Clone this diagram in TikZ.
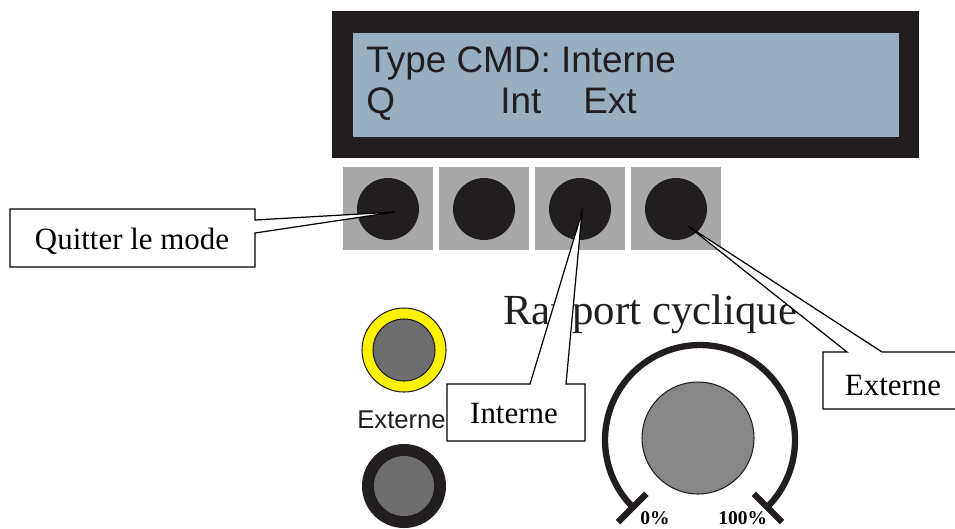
\documentclass[tikz,border=0pt]{standalone}
\usepackage{fontspec}
\setmainfont{Liberation Serif}
\newfontfamily\lcdfont{Liberation Sans}
\usetikzlibrary{calc}

\definecolor{lcdblue}{HTML}{97AFC1}
\definecolor{panelblack}{HTML}{221E1F}
\definecolor{btngray}{HTML}{A8A8A8}
\definecolor{knobgray}{HTML}{878787}
\definecolor{ledgray}{HTML}{6E6E6E}
\definecolor{ledyellow}{HTML}{FFF200}

\begin{document}
\begin{tikzpicture}[x=0.02cm, y=-0.02cm,
    lcdtext/.style={anchor=base west, inner sep=0pt, text=panelblack,
      font=\lcdfont\fontsize{21}{24}\selectfont},
    bubble/.style={draw, fill=white, line width=0.7pt, line join=miter},
    bubbletext/.style={anchor=base, inner sep=0pt, font=\fontsize{17.6}{20}\selectfont},
    ring/.style={draw=panelblack, line width=0.6pt}]

\useasboundingbox (0,0) rectangle (955,528);

% afficheur
\fill[panelblack] (332,11) rectangle (919,158);
\fill[lcdblue] (353,33) rectangle (899,137);
\node[lcdtext] (ligne1) at (366,72) {Type CMD: Interne};
\node[lcdtext] (q) at (366,113) {Q};
\node[lcdtext] (int) at (500,113) {Int};
\node[lcdtext] (ext) at (583,113) {Ext};

% boutons
\foreach \i/\x in {1/388,2/484,3/580,4/676}{
  \fill[btngray] (\x-45,167) rectangle (\x+45,250);
  \fill[panelblack] (\x,209) circle (31);
  \coordinate (b\i) at (\x,209);
}
\coordinate (tipq) at ($(b1)+(7,3)$);
\coordinate (tipi) at ($(b3)+(2,3)$);
\coordinate (tipe) at ($(b4)+(12,17)$);

% voyants
\draw[ring, fill=ledyellow] (404,350) circle (42);
\draw[ring, fill=ledgray] (404,350) circle (31);
\fill[panelblack] (404,486) circle (42);
\fill[ledgray] (404,486) circle (30);
\node[anchor=base west, inner sep=0pt, text=panelblack,
  font=\lcdfont\fontsize{14.6}{16}\selectfont] (extled) at (357,428) {Externe};

% potentiometre
\coordinate (kc) at (700,440);
\draw[panelblack, line width=3.6pt] (kc) ++(135:95) arc[start angle=135, end angle=405, radius=95];
\draw[panelblack, line width=3.6pt] ($(kc)+(135:76)$) -- ($(kc)+(135:116)$);
\draw[panelblack, line width=3.6pt] ($(kc)+(45:76)$) -- ($(kc)+(45:116)$);
\draw[ring, fill=knobgray] (698,438) circle (56);
\node[anchor=base west, inner sep=0pt, font=\bfseries\fontsize{11.1}{13}\selectfont] (zero) at (640,524) {0\%};
\node[anchor=base west, inner sep=0pt, font=\bfseries\fontsize{11.1}{13}\selectfont] (cent) at (718,524) {100\%};
\node[anchor=base west, inner sep=0pt, text=panelblack, font=\fontsize{24.4}{28}\selectfont] (rc) at (503,324) {Rapport cyclique};

% bulles
\draw[bubble] (10,209) -- (255,209) -- (255,220) -- (tipq) -- (255,233) -- (255,267) -- (10,267) -- cycle;
\node[bubbletext] (quitter) at (132,249) {Quitter le mode};
\draw[bubble] (447,384) -- (530,384) -- (tipi) -- (566,384) -- (585,384) -- (585,441) -- (447,441) -- cycle;
\node[bubbletext] (interne) at (514,423) {Interne};
\draw[bubble] (823,352) -- (847,352) -- (tipe) -- (882,352) -- (970,352) -- (970,409) -- (823,409) -- cycle;
\node[bubbletext] (externe) at (893,395) {Externe};
\end{tikzpicture}
\end{document}
